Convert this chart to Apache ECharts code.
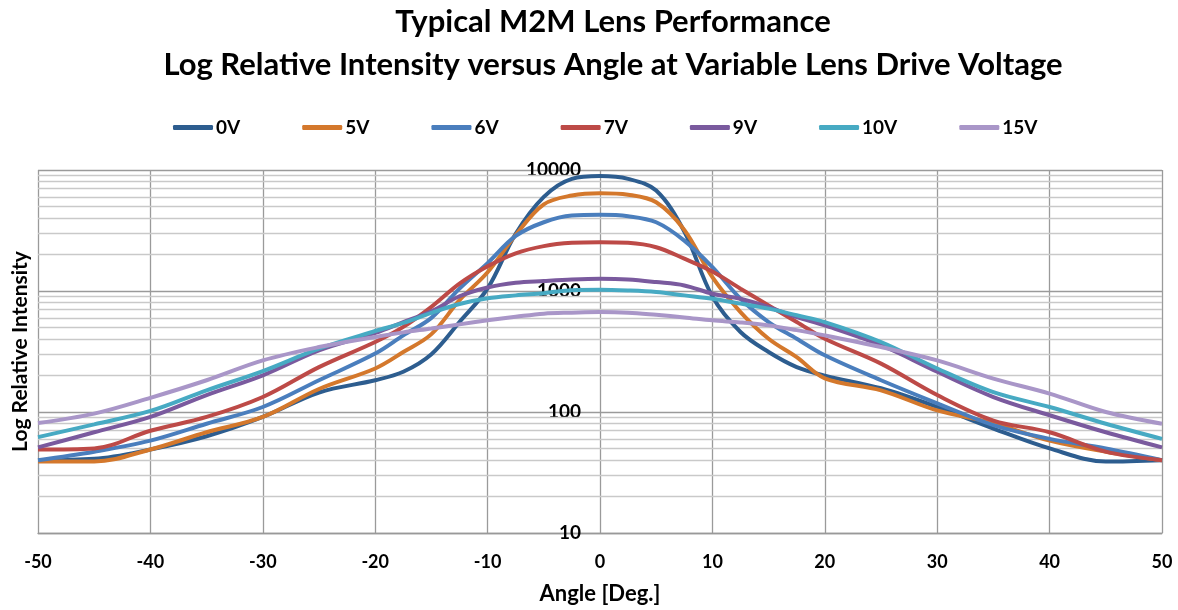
<!DOCTYPE html>
<html>
<head>
<meta charset="utf-8">
<script src="https://cdn.jsdelivr.net/npm/echarts@6/dist/echarts.min.js"></script>
<style>
  html, body { margin: 0; padding: 0; background: #fff; }
  #chart { width: 1178px; height: 610px; }
</style>
</head>
<body>
<div id="chart"></div>
<script>
const angles = [-50, -45, -40, -35, -30, -25, -20, -17.5, -15, -12.5, -10, -7.5, -5, -2.5, 0,
  2.5, 5, 7.5, 10, 12.5, 15, 17.5, 20, 25, 30, 35, 40, 45, 50]

const v0 = [40, 41, 49, 63, 91, 145, 183, 215, 300, 554, 1050, 2970, 6000, 8450, 8900,
  8450, 6760, 3100, 900, 458, 313, 235, 200, 157, 110, 73, 50, 39, 40]
const v5 = [39, 39, 49, 68, 91, 155, 229, 313, 440, 840, 1430, 2900, 5200, 6150, 6430,
  6250, 5410, 3200, 1300, 670, 403, 284, 190, 151, 103, 81, 58, 47, 40]
const v6 = [40, 47, 58, 80, 110, 183, 304, 430, 600, 1045, 1700, 2850, 3700, 4200, 4260,
  4150, 3700, 2610, 1575, 863, 554, 403, 294, 183, 118, 78, 60, 50, 40]
const v7 = [49, 50, 70, 91, 133, 235, 379, 505, 740, 1150, 1600, 2050, 2350, 2500, 2530,
  2500, 2300, 1850, 1450, 1045, 760, 554, 403, 251, 138, 85, 68, 47, 40]
const v9 = [51, 68, 91, 138, 201, 323, 450, 554, 680, 905, 1070, 1170, 1210, 1245, 1262,
  1245, 1185, 1112, 950, 863, 737, 609, 520, 356, 215, 133, 94, 68, 51]
const v10 = [62, 79, 102, 151, 218, 334, 467, 545, 660, 780, 870, 920, 960, 1016, 1025,
  1010, 980, 920, 863, 786, 715, 630, 554, 379, 229, 146, 110, 80, 60]
const v15 = [81, 97, 131, 183, 267, 344, 417, 455, 490, 530, 572, 612, 650, 662, 670,
  662, 635, 605, 572, 550, 520, 475, 430, 344, 267, 189, 142, 100, 80]

const seriesNames = ['0V', '5V', '6V', '7V', '9V', '10V', '15V']
const seriesValues = [v0, v5, v6, v7, v9, v10, v15]
const seriesColors = ['#2D5D8F', '#D4782C', '#4A7EBD', '#BD4A47', '#7A5A9E', '#47AAC3', '#A996C8']

// minor log gridlines: 2..9 in each decade
const decades = [10, 100, 1000]
const minorTicks = []
decades.forEach((d) => {
  for (let k = 2; k <= 9; k++) minorTicks.push(k * d)
})

const font = 'Lato, "Open Sans", sans-serif'
const chart = echarts.init(document.getElementById('chart'))

const seriesList = seriesNames.map((name, i) => ({
  name,
  type: 'line',
  smooth: 0.35,
  symbol: 'none',
  data: angles.map((a, j) => [a, seriesValues[i][j]]),
  lineStyle: { color: seriesColors[i], width: 4 },
  itemStyle: { color: seriesColors[i] },
}))

seriesList.push({
  name: 'minor',
  type: 'line',
  data: [],
  markLine: {
    silent: true,
    z: 1,
    symbol: ['none', 'none'],
    label: { show: false },
    lineStyle: { color: '#c9c9c9', width: 1.3, type: 'solid' },
    data: minorTicks.map((v) => ({ yAxis: v })),
  },
})

chart.setOption({
  animation: false,
  textStyle: { fontFamily: font },
  title: {
    text: 'Typical M2M Lens Performance\nLog Relative Intensity versus Angle at Variable Lens Drive Voltage',
    left: 613,
    textAlign: 'center',
    top: 0,
    padding: 0,
    textStyle: {
      fontFamily: font,
      fontWeight: 'bold',
      fontSize: 31,
      lineHeight: 43,
      color: '#000',
    },
  },
  legend: {
    data: seriesNames,
    left: 173,
    top: 118,
    padding: 0,
    icon: 'roundRect',
    itemWidth: 40,
    itemHeight: 5,
    itemGap: 62,
    textStyle: { fontFamily: font, fontWeight: 'bold', fontSize: 19, color: '#000', padding: [0, 0, 0, -2] },
  },
  grid: { left: 38, right: 16, top: 170, bottom: 77, outerBoundsMode: 'none', containLabel: false },
  xAxis: {
    type: 'value',
    min: -50,
    max: 50,
    interval: 10,
    name: 'Angle [Deg.]',
    nameLocation: 'middle',
    nameGap: 50,
    nameTextStyle: { fontFamily: font, fontWeight: 'bold', fontSize: 22, color: '#000' },
    axisLine: { lineStyle: { color: '#999', width: 1.3 } },
    axisTick: { show: false },
    axisLabel: { fontFamily: font, fontWeight: 'bold', fontSize: 18, color: '#000', margin: 20 },
    splitLine: { show: true, lineStyle: { color: '#9a9a9a', width: 1.3 } },
  },
  yAxis: {
    type: 'log',
    logBase: 10,
    min: 10,
    max: 10000,
    position: 'left',
    offset: -562,
    name: 'Log Relative Intensity',
    nameLocation: 'middle',
    nameGap: 569,
    nameTextStyle: { fontFamily: font, fontWeight: 'bold', fontSize: 21, color: '#000' },
    axisLine: { show: false, onZero: false },
    axisTick: { show: false },
    axisLabel: {
      fontFamily: font, fontWeight: 'bold', fontSize: 19, color: '#000', margin: 19,
      formatter: (v) => String(v),
    },
    splitLine: { show: true, lineStyle: { color: '#9a9a9a', width: 1.3 } },
  },
  series: seriesList,
})
</script>
</body>
</html>
